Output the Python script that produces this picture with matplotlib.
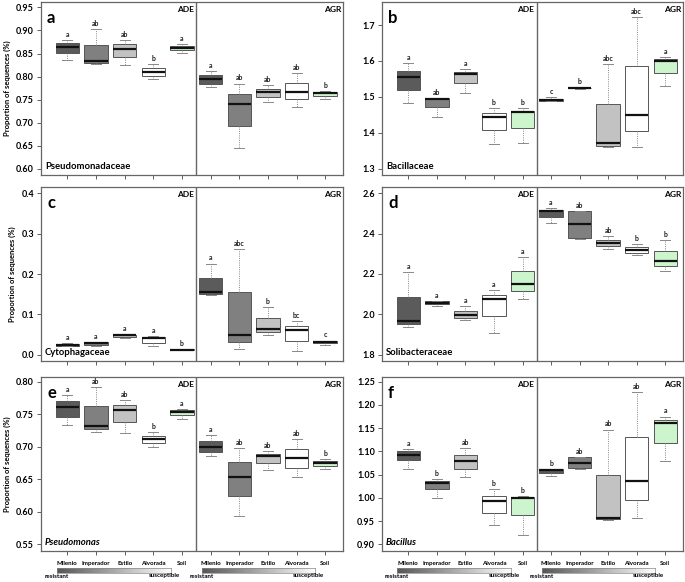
import numpy as np
import matplotlib.pyplot as plt
from matplotlib.colors import LinearSegmentedColormap

plt.rcParams['font.family'] = ['Lato', 'DejaVu Sans']

# ---------------------------------------------------------
# Data: whisker low, Q1, median, Q3, whisker high
# order: Milenio, Imperador, Estilo, Alvorada, Soil (ADE) then same for AGR
# ---------------------------------------------------------
groups = ["Milenio", "Imperador", "Estilo", "Alvorada", "Soil"]
sites = ["ADE", "AGR"]
panel_tags = ["a", "b", "c", "d", "e", "f"]
taxa = ["Pseudomonadaceae", "Bacillaceae", "Cytophagaceae",
        "Solibacteraceae", "Pseudomonas", "Bacillus"]

a_lo = [0.835, 0.827, 0.825, 0.795, 0.852, 0.778, 0.645, 0.744, 0.735, 0.751]
a_q1 = [0.852, 0.830, 0.843, 0.802, 0.857, 0.785, 0.693, 0.755, 0.751, 0.759]
a_med = [0.864, 0.834, 0.860, 0.810, 0.862, 0.795, 0.740, 0.766, 0.766, 0.764]
a_q3 = [0.872, 0.868, 0.871, 0.818, 0.866, 0.803, 0.762, 0.774, 0.787, 0.767]
a_hi = [0.879, 0.902, 0.879, 0.827, 0.871, 0.813, 0.785, 0.781, 0.808, 0.769]
a_let = ["a", "ab", "ab", "b", "a", "a", "ab", "ab", "ab", "b"]

b_lo = [1.482, 1.445, 1.512, 1.369, 1.373, 1.488, 1.523, 1.362, 1.362, 1.530]
b_q1 = [1.519, 1.471, 1.538, 1.408, 1.414, 1.489, 1.524, 1.365, 1.406, 1.566]
b_med = [1.555, 1.495, 1.564, 1.445, 1.457, 1.492, 1.525, 1.371, 1.449, 1.600]
b_q3 = [1.573, 1.497, 1.570, 1.456, 1.462, 1.495, 1.526, 1.481, 1.587, 1.606]
b_hi = [1.595, 1.497, 1.577, 1.468, 1.468, 1.500, 1.527, 1.591, 1.723, 1.612]
b_let = ["a", "ab", "a", "b", "b", "c", "b", "abc", "abc", "a"]

c_lo = [0.021, 0.022, 0.041, 0.021, 0.011, 0.147, 0.013, 0.048, 0.009, 0.025]
c_q1 = [0.022, 0.025, 0.045, 0.030, 0.0115, 0.150, 0.031, 0.056, 0.035, 0.028]
c_med = [0.025, 0.028, 0.048, 0.041, 0.0125, 0.155, 0.049, 0.064, 0.061, 0.031]
c_q3 = [0.0265, 0.031, 0.050, 0.045, 0.0135, 0.190, 0.155, 0.091, 0.071, 0.033]
c_hi = [0.028, 0.032, 0.051, 0.046, 0.014, 0.226, 0.261, 0.119, 0.083, 0.035]
c_let = ["a", "a", "a", "a", "b", "a", "abc", "b", "bc", "c"]

d_lo = [1.939, 2.043, 1.972, 1.909, 2.078, 2.451, 2.375, 2.326, 2.293, 2.215]
d_q1 = [1.952, 2.050, 1.983, 1.992, 2.114, 2.484, 2.377, 2.340, 2.304, 2.240]
d_med = [1.967, 2.056, 1.997, 2.076, 2.150, 2.511, 2.446, 2.355, 2.317, 2.266]
d_q3 = [2.084, 2.064, 2.017, 2.096, 2.216, 2.517, 2.512, 2.369, 2.332, 2.316]
d_hi = [2.208, 2.066, 2.041, 2.121, 2.283, 2.526, 2.514, 2.388, 2.349, 2.369]
d_let = ["a", "a", "a", "a", "a", "a", "ab", "ab", "b", "b"]

e_lo = [0.733, 0.723, 0.721, 0.699, 0.742, 0.685, 0.594, 0.664, 0.653, 0.665]
e_q1 = [0.746, 0.727, 0.738, 0.705, 0.749, 0.692, 0.624, 0.675, 0.667, 0.671]
e_med = [0.761, 0.732, 0.756, 0.711, 0.754, 0.700, 0.654, 0.685, 0.682, 0.675]
e_q3 = [0.770, 0.762, 0.764, 0.717, 0.756, 0.708, 0.676, 0.689, 0.696, 0.678]
e_hi = [0.779, 0.792, 0.772, 0.723, 0.758, 0.718, 0.698, 0.693, 0.711, 0.681]
e_let = ["a", "ab", "ab", "b", "a", "a", "ab", "ab", "ab", "b"]

f_lo = [1.061, 1.000, 1.045, 0.941, 0.920, 1.046, 1.063, 0.953, 0.957, 1.079]
f_q1 = [1.081, 1.018, 1.062, 0.968, 0.962, 1.053, 1.064, 0.955, 0.996, 1.118]
f_med = [1.092, 1.032, 1.079, 0.993, 1.000, 1.059, 1.075, 0.957, 1.036, 1.161]
f_q3 = [1.100, 1.036, 1.092, 1.005, 1.002, 1.061, 1.087, 1.050, 1.131, 1.168]
f_hi = [1.104, 1.041, 1.107, 1.019, 1.003, 1.062, 1.088, 1.147, 1.227, 1.175]
f_let = ["a", "b", "ab", "b", "b", "b", "ab", "ab", "ab", "a"]

y_ticks = [np.arange(0.60, 0.951, 0.05), np.arange(1.3, 1.71, 0.1),
           np.arange(0.0, 0.41, 0.1), np.arange(1.8, 2.61, 0.2),
           np.arange(0.55, 0.801, 0.05), np.arange(0.90, 1.251, 0.05)]
y_fmt = ["%.2f", "%.1f", "%.1f", "%.1f", "%.2f", "%.2f"]
y_lims = [(0.587, 0.9615), (1.283, 1.764), (-0.0156, 0.4156),
          (1.769, 2.631), (0.5397, 0.807), (0.8856, 1.260)]

all_stats = [
    (a_lo, a_q1, a_med, a_q3, a_hi, a_let),
    (b_lo, b_q1, b_med, b_q3, b_hi, b_let),
    (c_lo, c_q1, c_med, c_q3, c_hi, c_let),
    (d_lo, d_q1, d_med, d_q3, d_hi, d_let),
    (e_lo, e_q1, e_med, e_q3, e_hi, e_let),
    (f_lo, f_q1, f_med, f_q3, f_hi, f_let),
]

box_colors = ["#5b5b5b", "#808080", "#c2c2c2", "#ffffff", "#cdf5cd"]
edge_color = "#555555"
W, H = 685, 582

# ---------------------------------------------------------
# Figure layout (pixel positions of the panels)
# ---------------------------------------------------------
fig = plt.figure(figsize=(W / 100, H / 100), dpi=100)
col_px = [(41, 343), (382, 683)]
row_px = [(2, 175), (187, 361), (377, 551)]

positions = np.arange(1, 11)

for i in range(6):
    r, c = divmod(i, 2)
    x0, x1 = col_px[c]
    y0, y1 = row_px[r]
    ax = fig.add_axes([x0 / W, 1 - y1 / H, (x1 - x0) / W, (y1 - y0) / H])
    lo, q1, med, q3, hi, lets = all_stats[i]

    stats = []
    for k in range(10):
        stats.append({"whislo": lo[k], "q1": q1[k], "med": med[k],
                      "q3": q3[k], "whishi": hi[k], "fliers": []})
    bp = ax.bxp(stats, positions=positions, widths=0.82, patch_artist=True,
                showfliers=False,
                boxprops=dict(edgecolor=edge_color, linewidth=0.7),
                medianprops=dict(color="#111111", linewidth=1.6),
                whiskerprops=dict(color="#888888", linewidth=0.7,
                                  linestyle=(0, (1, 1.3))),
                capprops=dict(color="#888888", linewidth=0.7),
                capwidths=0.35)
    for k, patch in enumerate(bp["boxes"]):
        patch.set_facecolor(box_colors[k % 5])

    for k in range(10):
        ax.annotate(lets[k], (positions[k], hi[k]), xytext=(0, 1.5),
                    textcoords="offset points", ha="center", va="bottom",
                    fontsize=5, fontweight="bold", color="#222222")

    ax.axvline(5.5, color="#666666", linewidth=1.0)
    ax.set_xlim(0.08, 10.62)
    ax.set_ylim(*y_lims[i])
    ax.set_yticks(y_ticks[i])
    ax.set_yticklabels([y_fmt[i] % v for v in y_ticks[i]])
    ax.set_xticks(positions)
    if r == 2:
        ax.set_xticklabels(groups * 2, fontsize=4.4, fontweight="bold")
    else:
        ax.set_xticklabels([])
    ax.tick_params(axis="y", labelsize=6.5, length=3, width=0.6,
                   color="#444444", pad=2)
    ax.tick_params(axis="x", length=3, width=0.6, color="#444444", pad=4)
    for lab in ax.get_yticklabels():
        lab.set_fontweight("bold")
    for sp in ax.spines.values():
        sp.set_color("#666666")
        sp.set_linewidth(0.9)

    tr = ax.get_xaxis_transform()
    ax.text(5.42, 0.975, sites[0], transform=tr, ha="right", va="top",
            fontsize=6, fontweight="bold")
    ax.text(10.55, 0.975, sites[1], transform=tr, ha="right", va="top",
            fontsize=6, fontweight="bold")
    ax.text(0.02, 0.955, panel_tags[i], transform=ax.transAxes,
            ha="left", va="top", fontsize=12, fontweight="bold")
    ax.text(0.013, 0.025, taxa[i], transform=ax.transAxes, ha="left",
            va="bottom", fontsize=6.8, fontweight="bold",
            fontstyle="italic" if r == 2 else "normal")
    if c == 0:
        ax.set_ylabel("Proportion of sequences (%)", fontsize=5.5,
                      fontweight="bold", labelpad=4)

# ---------------------------------------------------------
# resistant -> susceptible gradient bars under the bottom row
# ---------------------------------------------------------
cmap = LinearSegmentedColormap.from_list("res", ["#555555", "#ffffff"])
grad = np.linspace(0, 1, 256).reshape(1, -1)
bars = [(57, 171), (202, 315), (397, 511), (542, 655)]
for bx0, bx1 in bars:
    gax = fig.add_axes([bx0 / W, 1 - 573 / H, (bx1 - bx0) / W, 5 / H])
    gax.imshow(grad, aspect="auto", cmap=cmap)
    gax.set_xticks([])
    gax.set_yticks([])
    for sp in gax.spines.values():
        sp.set_color("#888888")
        sp.set_linewidth(0.5)
    fig.text((bx0 - 12) / W, 1 - 577 / H, "resistant", ha="left",
             va="center", fontsize=4.5, fontweight="bold")
    fig.text((bx1 + 9) / W, 1 - 576 / H, "susceptible", ha="right",
             va="center", fontsize=4.5, fontweight="bold")

fig.savefig("out.png", dpi=100)
